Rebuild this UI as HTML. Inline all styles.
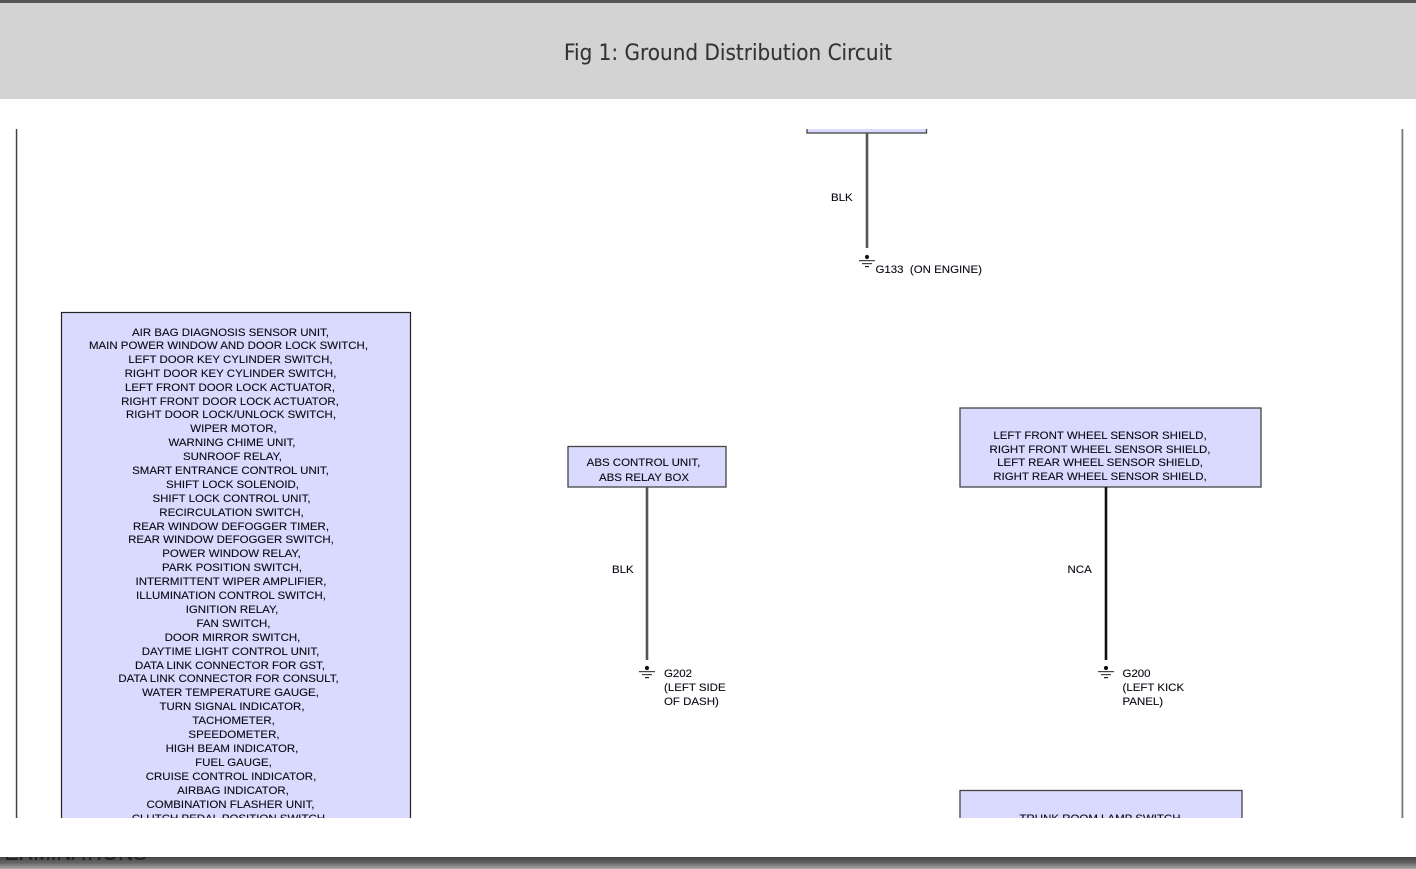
<!DOCTYPE html>
<html><head><meta charset="utf-8"><style>
html,body{margin:0;padding:0;width:1416px;height:869px;overflow:hidden;background:#fff}
svg{display:block;position:absolute;left:0;top:0}
text{font-family:"Liberation Sans",sans-serif;font-size:11.47px;fill:#0a0a14;stroke:#0a0a14;stroke-width:0.12px}
.m{text-anchor:middle}
.t{font-family:"DejaVu Sans",sans-serif;font-size:22px;fill:#333;stroke:#333;stroke-width:0.1px}
</style></head><body>
<svg width="1416" height="869" viewBox="0 0 1416 869">
<defs>
<linearGradient id="g" x1="0" y1="0" x2="0" y2="1"><stop offset="0" stop-color="#444"/><stop offset="0.5" stop-color="#666"/><stop offset="1" stop-color="#aaa"/></linearGradient>
<clipPath id="c"><rect x="0" y="129" width="1416" height="689"/></clipPath>
<clipPath id="d"><rect x="0" y="857" width="200" height="3"/></clipPath>
<g id="gnd"><circle cx="0" cy="0" r="2.1" fill="#111"/><rect x="-8" y="3" width="16" height="1.2" fill="#444"/><rect x="-5" y="6" width="10" height="1.2" fill="#444"/><rect x="-2" y="9" width="4" height="1.2" fill="#222"/></g>
</defs>
<rect x="0" y="0" width="1416" height="99" fill="#d3d3d3"/>
<rect x="0" y="0" width="1416" height="3" fill="#555"/>
<text class="t" x="564" y="60" textLength="328" lengthAdjust="spacingAndGlyphs">Fig 1: Ground Distribution Circuit</text>
<rect x="0" y="857" width="1416" height="12" fill="url(#g)"/>
<text x="-8" y="860" clip-path="url(#d)" style="font-size:22px;fill:#222" textLength="155" lengthAdjust="spacingAndGlyphs">TERMINATIONS</text>
<g clip-path="url(#c)">
<rect x="15.8" y="120" width="1.5" height="720" fill="#444"/>
<rect x="1401.5" y="120" width="1.8" height="720" fill="#777"/>
<rect x="807" y="100" width="119.5" height="33" fill="#dadaff" stroke="#444" stroke-width="1.3"/>
<rect x="865.7" y="133" width="2.6" height="115" fill="#555"/>
<text x="831" y="201">BLK</text>
<use href="#gnd" x="867" y="257"/>
<text x="875.5" y="273">G133&#160;&#160;(ON ENGINE)</text>
<rect x="61.5" y="312.5" width="349" height="560" fill="#dadaff" stroke="#222" stroke-width="1.2"/>
<g>
<text class="m" x="230.5" y="336">AIR BAG DIAGNOSIS SENSOR UNIT,</text>
<text class="m" x="228.5" y="349">MAIN POWER WINDOW AND DOOR LOCK SWITCH,</text>
<text class="m" x="230.5" y="363">LEFT DOOR KEY CYLINDER SWITCH,</text>
<text class="m" x="230.5" y="377">RIGHT DOOR KEY CYLINDER SWITCH,</text>
<text class="m" x="230" y="391">LEFT FRONT DOOR LOCK ACTUATOR,</text>
<text class="m" x="230" y="405">RIGHT FRONT DOOR LOCK ACTUATOR,</text>
<text class="m" x="231" y="418">RIGHT DOOR LOCK/UNLOCK SWITCH,</text>
<text class="m" x="233.5" y="432">WIPER MOTOR,</text>
<text class="m" x="232" y="446">WARNING CHIME UNIT,</text>
<text class="m" x="232.5" y="460">SUNROOF RELAY,</text>
<text class="m" x="230.5" y="474">SMART ENTRANCE CONTROL UNIT,</text>
<text class="m" x="232.5" y="488">SHIFT LOCK SOLENOID,</text>
<text class="m" x="231.5" y="502">SHIFT LOCK CONTROL UNIT,</text>
<text class="m" x="231.5" y="516">RECIRCULATION SWITCH,</text>
<text class="m" x="231" y="530">REAR WINDOW DEFOGGER TIMER,</text>
<text class="m" x="231" y="543">REAR WINDOW DEFOGGER SWITCH,</text>
<text class="m" x="231.5" y="557">POWER WINDOW RELAY,</text>
<text class="m" x="232" y="571">PARK POSITION SWITCH,</text>
<text class="m" x="231" y="585">INTERMITTENT WIPER AMPLIFIER,</text>
<text class="m" x="231" y="599">ILLUMINATION CONTROL SWITCH,</text>
<text class="m" x="232" y="613">IGNITION RELAY,</text>
<text class="m" x="233.5" y="627">FAN SWITCH,</text>
<text class="m" x="232.5" y="641">DOOR MIRROR SWITCH,</text>
<text class="m" x="230.5" y="655">DAYTIME LIGHT CONTROL UNIT,</text>
<text class="m" x="230" y="669">DATA LINK CONNECTOR FOR GST,</text>
<text class="m" x="228.5" y="682">DATA LINK CONNECTOR FOR CONSULT,</text>
<text class="m" x="230.5" y="696">WATER TEMPERATURE GAUGE,</text>
<text class="m" x="232" y="710">TURN SIGNAL INDICATOR,</text>
<text class="m" x="233.5" y="724">TACHOMETER,</text>
<text class="m" x="234" y="738">SPEEDOMETER,</text>
<text class="m" x="232" y="752">HIGH BEAM INDICATOR,</text>
<text class="m" x="233.5" y="766">FUEL GAUGE,</text>
<text class="m" x="231" y="780">CRUISE CONTROL INDICATOR,</text>
<text class="m" x="233" y="794">AIRBAG INDICATOR,</text>
<text class="m" x="230.5" y="808">COMBINATION FLASHER UNIT,</text>
<text class="m" x="230" y="822">CLUTCH PEDAL POSITION SWITCH,</text>
</g>
<rect x="568" y="446.5" width="158" height="40.5" fill="#dadaff" stroke="#444" stroke-width="1.3"/>
<text class="m" x="643.5" y="466">ABS CONTROL UNIT,</text>
<text class="m" x="644" y="481">ABS RELAY BOX</text>
<rect x="645.7" y="487" width="2.6" height="173" fill="#555"/>
<text x="612" y="573">BLK</text>
<use href="#gnd" x="647" y="668"/>
<text x="664" y="677">G202</text>
<text x="664" y="691">(LEFT SIDE</text>
<text x="664" y="705">OF DASH)</text>
<rect x="960" y="408" width="301" height="79" fill="#dadaff" stroke="#444" stroke-width="1.3"/>
<text class="m" x="1100" y="439">LEFT FRONT WHEEL SENSOR SHIELD,</text>
<text class="m" x="1100" y="453">RIGHT FRONT WHEEL SENSOR SHIELD,</text>
<text class="m" x="1100" y="466">LEFT REAR WHEEL SENSOR SHIELD,</text>
<text class="m" x="1100" y="480">RIGHT REAR WHEEL SENSOR SHIELD,</text>
<rect x="1104.7" y="487" width="2.6" height="173" fill="#111"/>
<text x="1067.5" y="573">NCA</text>
<use href="#gnd" x="1106" y="668"/>
<text x="1122.5" y="677">G200</text>
<text x="1122.5" y="691">(LEFT KICK</text>
<text x="1122.5" y="705">PANEL)</text>
<rect x="960" y="790.5" width="282" height="60" fill="#dadaff" stroke="#444" stroke-width="1.3"/>
<text class="m" x="1100" y="822">TRUNK ROOM LAMP SWITCH</text>
</g>
</svg>
</body></html>
